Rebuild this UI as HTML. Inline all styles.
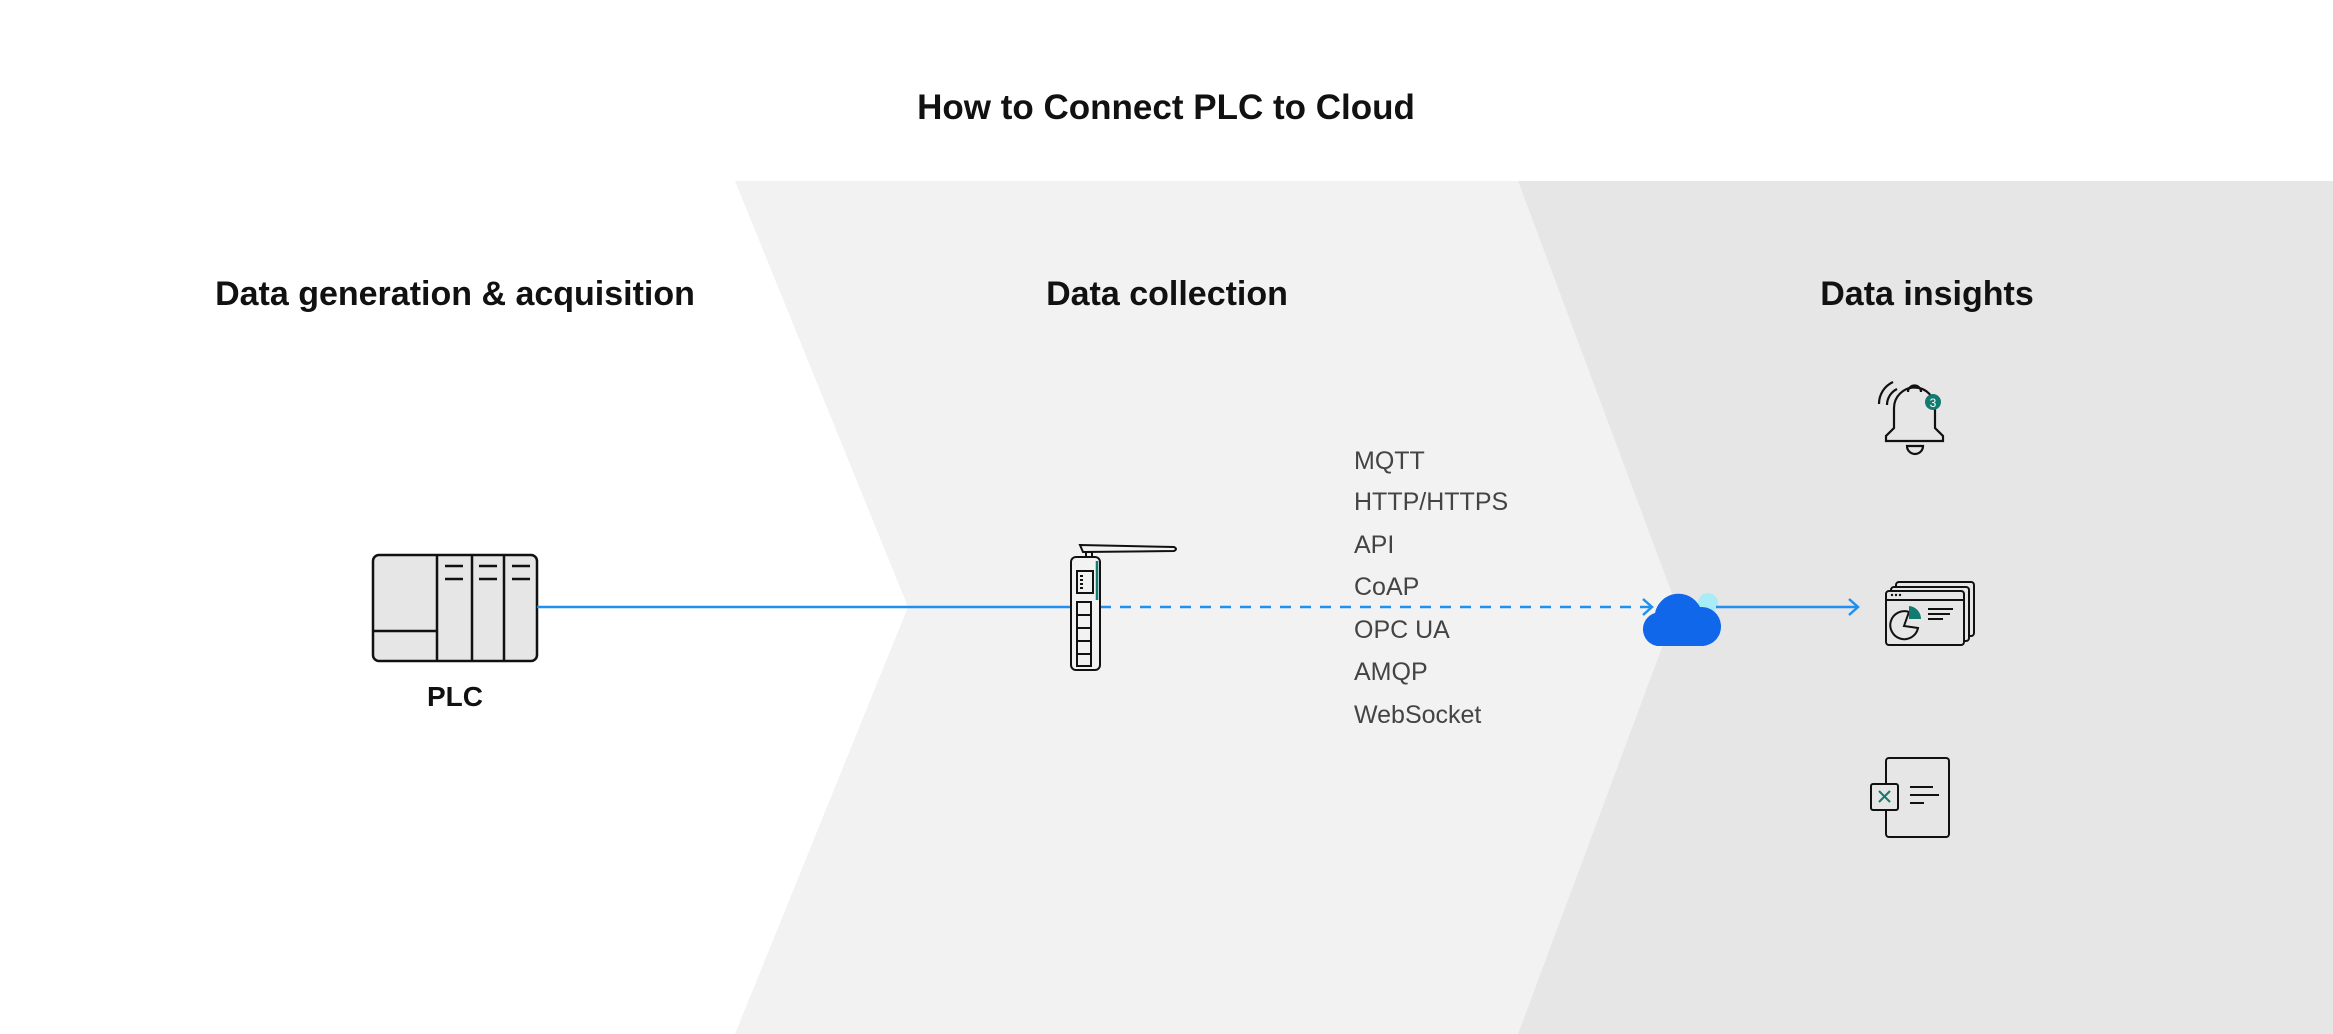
<!DOCTYPE html>
<html><head><meta charset="utf-8"><style>
html,body{margin:0;padding:0;background:#fff}
svg{display:block}
text{font-family:"Liberation Sans",sans-serif}
</style></head><body>
<svg width="2333" height="1034" viewBox="0 0 2333 1034" xmlns="http://www.w3.org/2000/svg">
<rect width="2333" height="1034" fill="#fff"/>
<polygon points="735,181 1518,181 1677,607 1518,1034 735,1034 908,607" fill="#f2f2f2"/>
<polygon points="1518,181 2333,181 2333,1034 1518,1034 1677,607" fill="#e6e6e6"/>
<text x="1166" y="119" font-size="35" font-weight="bold" text-anchor="middle" fill="#111">How to Connect PLC to Cloud</text>
<g font-size="34" font-weight="bold" fill="#111" text-anchor="middle">
<text x="455" y="305">Data generation &amp; acquisition</text>
<text x="1167" y="305">Data collection</text>
<text x="1927" y="305">Data insights</text>
</g>
<!-- PLC -->
<g stroke="#111" stroke-width="2.5" fill="#e6e6e6">
<rect x="373" y="555" width="164" height="106" rx="6"/>
<line x1="437" y1="555" x2="437" y2="661"/>
<line x1="472" y1="555" x2="472" y2="661"/>
<line x1="504" y1="555" x2="504" y2="661"/>
<line x1="373" y1="631" x2="437" y2="631"/>
<line x1="445" y1="566" x2="463" y2="566"/><line x1="445" y1="579" x2="463" y2="579"/>
<line x1="479" y1="566" x2="497" y2="566"/><line x1="479" y1="579" x2="497" y2="579"/>
<line x1="512" y1="566" x2="530" y2="566"/><line x1="512" y1="579" x2="530" y2="579"/>
</g>
<text x="455" y="706" font-size="28" font-weight="bold" text-anchor="middle" fill="#111">PLC</text>
<!-- lines -->
<line x1="537" y1="607" x2="1082" y2="607" stroke="#1e90f0" stroke-width="2.5"/>
<line x1="1100" y1="607" x2="1650" y2="607" stroke="#1e90f0" stroke-width="2.5" stroke-dasharray="11,9"/>
<polyline points="1643,599 1652,607 1643,615" fill="none" stroke="#1e90f0" stroke-width="2.5"/>
<!-- gateway -->
<g stroke="#111" stroke-width="2" fill="#f2f2f2">
<path d="M1080,545 L1174,547 Q1178,549 1174,551 L1083,552 Z"/>
<rect x="1086" y="552" width="6" height="6"/>
<rect x="1071" y="557" width="29" height="113" rx="5"/>
<rect x="1077" y="571" width="16" height="22"/>
<rect x="1077" y="602" width="14" height="13"/>
<rect x="1077" y="615" width="14" height="13"/>
<rect x="1077" y="628" width="14" height="13"/>
<rect x="1077" y="641" width="14" height="13"/>
<rect x="1077" y="654" width="14" height="12"/>
</g>
<line x1="1097" y1="561" x2="1097" y2="600" stroke="#127a6e" stroke-width="2.5"/>
<g fill="#111"><rect x="1080" y="575" width="3" height="2"/><rect x="1080" y="579" width="3" height="2"/><rect x="1080" y="583" width="3" height="2"/><rect x="1080" y="587" width="3" height="2"/></g>
<!-- protocols -->
<g font-size="25" fill="#444">
<text x="1354" y="469">MQTT</text>
<text x="1354" y="510">HTTP/HTTPS</text>
<text x="1354" y="553">API</text>
<text x="1354" y="595">CoAP</text>
<text x="1354" y="638">OPC UA</text>
<text x="1354" y="680">AMQP</text>
<text x="1354" y="723">WebSocket</text>
</g>
<!-- cloud -->
<circle cx="1708" cy="603" r="10" fill="#a8ecf8"/>
<path d="M1657,646 A17,17 0 0 1 1655,613 A24,24 0 0 1 1700,607 A19,19 0 0 1 1703,646 Z" fill="#1167ea"/>
<line x1="1716" y1="607" x2="1857" y2="607" stroke="#1e90f0" stroke-width="2.5"/>
<polyline points="1849,599 1858,607 1849,615" fill="none" stroke="#1e90f0" stroke-width="2.5"/>
<!-- bell -->
<g stroke="#111" stroke-width="2.2" fill="none">
<path d="M1886,441 L1943,441 L1943,436 L1935,428 L1935,408 A20,20 0 0 0 1894,408 L1894,428 L1886,436 Z"/>
<path d="M1908,392 A6,6 0 0 1 1921,392"/>
<path d="M1907,446 A8,8 0 0 0 1923,446 Z"/>
<path d="M1887,405 A18,18 0 0 1 1897,389"/>
<path d="M1879,404 A24,24 0 0 1 1893,382"/>
</g>
<circle cx="1933" cy="402" r="8" fill="#127a6e"/>
<text x="1933" y="407" font-size="12" fill="#fff" text-anchor="middle">3</text>
<!-- dashboard -->
<g stroke="#111" stroke-width="2" fill="#e6e6e6">
<rect x="1896" y="582" width="78" height="54" rx="3"/>
<rect x="1891" y="587" width="78" height="54" rx="3"/>
<rect x="1886" y="591" width="78" height="54" rx="3"/>
<line x1="1886" y1="600" x2="1964" y2="600"/>
<path d="M1909,612 A14,14 0 1 0 1918,628 L1904,626 Z" fill="none"/>
<line x1="1928" y1="609" x2="1953" y2="609"/><line x1="1928" y1="614" x2="1950" y2="614"/><line x1="1928" y1="619" x2="1943" y2="619"/>
</g>
<path d="M1909,606 L1909,619 L1921,619 A13,13 0 0 0 1909,606 Z" fill="#127a6e"/>
<g fill="#111"><circle cx="1892" cy="595" r="1.2"/><circle cx="1896" cy="595" r="1.2"/><circle cx="1900" cy="595" r="1.2"/></g>
<!-- excel doc -->
<g stroke="#111" stroke-width="2" fill="#e6e6e6">
<rect x="1886" y="758" width="63" height="79" rx="3"/>
<rect x="1871" y="784" width="27" height="26" rx="2"/>
<line x1="1910" y1="787" x2="1933" y2="787"/><line x1="1910" y1="795" x2="1939" y2="795"/><line x1="1910" y1="803" x2="1924" y2="803"/>
</g>
<g stroke="#127a6e" stroke-width="2"><line x1="1879" y1="791" x2="1890" y2="802"/><line x1="1890" y1="791" x2="1879" y2="802"/></g>
</svg>
</body></html>
